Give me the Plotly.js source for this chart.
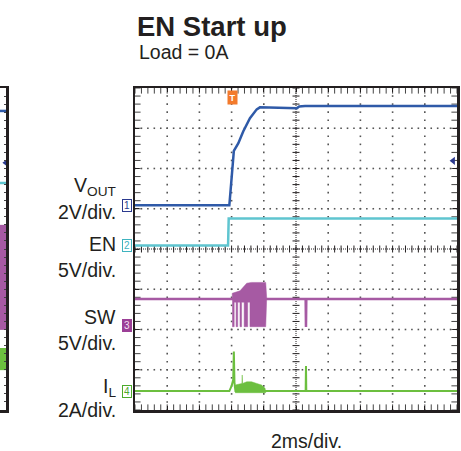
<!DOCTYPE html>
<html><head><meta charset="utf-8">
<script src="https://cdn.plot.ly/plotly-3.0.1.min.js"></script>
<style>html,body{margin:0;padding:0;background:#fff;}#chart{width:461px;height:451px;}</style>
</head><body><div id="chart"></div>
<script>
// Horizontal: time in divisions (2 ms/div, 10 div). Vertical: screen divisions (8 div).
const voutX = [0, 2.93, 2.97, 3.03, 3.07, 3.21, 3.36, 3.57, 3.78, 3.88, 5.03, 5.10, 5.28, 10];
const voutY = [5.09, 5.09, 5.47, 6.13, 6.44, 6.63, 6.92, 7.25, 7.47, 7.52, 7.50, 7.54, 7.55, 7.55];
const enX = [0, 2.89, 2.91, 10];
const enY = [4.09, 4.09, 4.76, 4.76];
const swX = [0, 3.02, 4.09, 5.30, 5.31, 5.32, 10];
const swY = [2.76, 2.76, 2.76, 2.76, 2.06, 2.76, 2.76];
const swBurstX = [3.02, 3.02, 3.26, 3.47, 3.62, 4.06, 4.09, 4.06, 3.57, 3.57, 3.50, 3.50, 3.39, 3.39, 3.31, 3.31, 3.26, 3.26, 3.19, 3.19, 3.14, 3.14, 3.08, 3.08, 3.02];
const swBurstY = [2.78, 2.90, 2.96, 3.15, 3.17, 3.17, 2.78, 2.07, 2.07, 2.68, 2.68, 2.07, 2.07, 2.68, 2.68, 2.07, 2.07, 2.68, 2.68, 2.07, 2.07, 2.68, 2.68, 2.07, 2.07];
const ilX = [0, 2.93, 3.00, 3.05, 3.07, 3.09, 3.12, 4.06, 5.30, 5.31, 5.32, 10];
const ilY = [0.47, 0.47, 0.60, 0.75, 1.45, 0.66, 0.47, 0.47, 0.47, 1.09, 0.47, 0.47];
const ilHumpX = [3.11, 3.20, 3.32, 3.33, 3.34, 3.47, 3.62, 3.78, 3.93, 4.04, 4.06, 4.06, 3.11];
const ilHumpY = [0.62, 0.64, 0.66, 0.87, 0.66, 0.70, 0.70, 0.66, 0.62, 0.54, 0.47, 0.43, 0.43];
// channel ground markers
const channelIds = ['1', '2', '3', '4'];
const channelGround = [5.09, 4.09, 2.09, 0.47];
// trigger
const triggerX = 3.04;
const triggerLevel = 6.19;
// neighbouring (cropped) scope shot on the far left
const prevX = [0, 1];
const prevVoutY = [7.43, 7.43];
const prevEnY = [5.64, 5.64];
const prevSwTop = [4.60, 4.60];
const prevSwBottom = [1.99, 1.99];
const prevIlTop = [1.54, 1.54];
const prevIlBottom = [0.99, 0.99];
const prevTrigLevel = 6.14;
// labels
const labelTexts = ['V<sub>OUT</sub>', '2V/div.', 'EN', '5V/div.', 'SW', '5V/div.', 'I<sub>L</sub>', '2A/div.'];
const titleText = 'EN Start up';
const subtitleText = 'Load = 0A';
const timebaseText = '2ms/div.';

const C = {vout:'#2f5aa8', en:'#5fc5d0', sw:'#a65aa3', il:'#6cbf3f', ink:'#231f20'};
const FONT = '"Liberation Sans", Arial, Helvetica, sans-serif';
const W = 457; // paper width in px (margin r = 4)
const XDIV = 10, YDIV = 8, SUB = 5;

// graticule (scope screen decoration, derived from the axis divisions)
const cxTicks = [], cyTicks = [];
for (let i = 0; i <= XDIV * SUB; i++) cxTicks.push(i / SUB);
for (let i = 0; i <= YDIV * SUB; i++) cyTicks.push(i / SUB);
const dotX = [], dotY = [];
for (let d = 1; d < XDIV; d++) { if (d === XDIV / 2) continue; cyTicks.forEach(v => { dotX.push(d); dotY.push(v); }); }
for (let d = 1; d < YDIV; d++) { if (d === YDIV / 2) continue; cxTicks.forEach(v => { dotX.push(v); dotY.push(d); }); }
const tickMark = (sym, size, color) => ({symbol:sym, size:size, line:{width:1, color:color}});

const traces = [
  {x:dotX, y:dotY, mode:'markers', marker:{symbol:'square', size:1.6, color:'#555', line:{width:0}}, hoverinfo:'skip'},
  {x:cxTicks, y:cxTicks.map(() => YDIV / 2), mode:'markers', marker:tickMark('line-ns', 5, C.ink), hoverinfo:'skip'},
  {x:cyTicks.map(() => XDIV / 2), y:cyTicks, mode:'markers', marker:tickMark('line-ew', 5, C.ink), hoverinfo:'skip'},
  {x:cyTicks.map(() => 0), y:cyTicks, mode:'markers', marker:tickMark('line-ew', 8, '#444'), hoverinfo:'skip'},
  {x:cyTicks.map(() => XDIV), y:cyTicks, mode:'markers', marker:tickMark('line-ew', 8, '#444'), hoverinfo:'skip'},
  {x:cxTicks, y:cxTicks.map(() => 0), mode:'markers', marker:tickMark('line-ns', 8, '#444'), hoverinfo:'skip'},
  {x:cxTicks, y:cxTicks.map(() => YDIV), mode:'markers', marker:tickMark('line-ns', 8, '#444'), hoverinfo:'skip'},
  {x:voutX, y:voutY, mode:'lines', line:{color:C.vout, width:2.5}, hoverinfo:'skip'},
  {x:enX, y:enY, mode:'lines', line:{color:C.en, width:2.5}, hoverinfo:'skip'},
  {x:swX, y:swY, mode:'lines', line:{color:C.sw, width:2.5}, hoverinfo:'skip'},
  {x:swBurstX, y:swBurstY, mode:'lines', fill:'toself', fillcolor:C.sw, line:{color:C.sw, width:0.5}, hoverinfo:'skip'},
  {x:ilX, y:ilY, mode:'lines', line:{color:C.il, width:2}, hoverinfo:'skip'},
  {x:ilHumpX, y:ilHumpY, mode:'lines', fill:'toself', fillcolor:C.il, line:{color:C.il, width:0.5}, hoverinfo:'skip'},
  {x:[9.88], y:[triggerLevel], mode:'markers', marker:{symbol:'triangle-left', size:7, color:'#2b3a8f'}, cliponaxis:false, hoverinfo:'skip'},
  // previous shot
  {x:prevX, y:prevVoutY, xaxis:'x2', yaxis:'y2', mode:'lines', line:{color:C.vout, width:2.5}, hoverinfo:'skip'},
  {x:prevX, y:prevEnY, xaxis:'x2', yaxis:'y2', mode:'lines', line:{color:C.en, width:2.5}, hoverinfo:'skip'},
  {x:prevX.concat(prevX.slice().reverse()), y:prevSwTop.concat(prevSwBottom), xaxis:'x2', yaxis:'y2', mode:'lines', fill:'toself', fillcolor:C.sw, line:{width:0, color:C.sw}, hoverinfo:'skip'},
  {x:prevX.concat(prevX.slice().reverse()), y:prevIlTop.concat(prevIlBottom), xaxis:'x2', yaxis:'y2', mode:'lines', fill:'toself', fillcolor:C.il, line:{width:0, color:C.il}, hoverinfo:'skip'},
  {x:[0.9], y:[prevTrigLevel], xaxis:'x2', yaxis:'y2', mode:'markers', marker:{symbol:'triangle-left', size:6, color:'#2b3a8f'}, cliponaxis:false, hoverinfo:'skip'}
];

const ann = [];
const markerStyle = [
  {fc:'#2b3a8f', bg:'#fff', bc:'#2b3a8f'},
  {fc:'#3fb3bf', bg:'#fff', bc:'#3fb3bf'},
  {fc:'#f4e0f2', bg:'#9c3f97', bc:'#9c3f97'},
  {fc:'#4daa2c', bg:'#fff', bc:'#4daa2c'}
];
channelIds.forEach((id, i) => {
  ann.push({xref:'paper', yref:'y', x:127/W, y:channelGround[i], text:id, showarrow:false,
    font:{family:FONT, size:10, color:markerStyle[i].fc}, bgcolor:markerStyle[i].bg,
    bordercolor:markerStyle[i].bc, borderwidth:1, borderpad:0, width:8, height:11, xanchor:'center', yanchor:'middle'});
});
// label vertical centres, in pixels from the top of the picture
const labelPix = [186, 212, 243.5, 270, 317, 343, 387, 410];
labelTexts.forEach((t, i) => {
  ann.push({xref:'paper', yref:'paper', x:118/W, y:(410 - labelPix[i]) / 322, text:t, showarrow:false, xanchor:'right', yanchor:'middle',
    font:{family:FONT, size:19.5, color:C.ink}});
});
ann.push({xref:'x', yref:'y', x:triggerX, y:7.76, text:'<b>T</b>', showarrow:false, bgcolor:'#f37a2c',
  font:{family:FONT, size:9, color:'#fff'}, borderpad:1.5, xanchor:'center', yanchor:'middle'});
ann.push({xref:'paper', yref:'paper', x:137/W, y:(410-51.5)/322, text:subtitleText, showarrow:false, xanchor:'left', yanchor:'middle',
  font:{family:FONT, size:19.5, color:C.ink}});
ann.push({xref:'paper', yref:'paper', x:306/W, y:(410-441)/322, text:timebaseText, showarrow:false, xanchor:'center', yanchor:'middle',
  font:{family:FONT, size:19.5, color:C.ink}});

const layout = {
  width:461, height:451,
  margin:{l:0, r:4, t:88, b:41},
  paper_bgcolor:'#fff', plot_bgcolor:'#fff', showlegend:false,
  font:{family:FONT, color:C.ink},
  title:{text:'<b>'+titleText+'</b>', xref:'container', yref:'container', x:137/461, xanchor:'left', y:1-26/451, yanchor:'middle',
    font:{family:FONT, size:27.5, color:C.ink}},
  xaxis:{domain:[135/W, 1], range:[0, XDIV], tickmode:'linear', tick0:0, dtick:1, showticklabels:false,
    ticks:'inside', ticklen:4, tickcolor:C.ink, tickwidth:1, showgrid:false, zeroline:false,
    showline:true, linecolor:C.ink, linewidth:2.5, mirror:'allticks', fixedrange:true},
  yaxis:{domain:[0,1], range:[0, YDIV], tickmode:'linear', tick0:0, dtick:1, showticklabels:false,
    ticks:'inside', ticklen:4, tickcolor:C.ink, tickwidth:1, showgrid:false, zeroline:false,
    showline:true, linecolor:C.ink, linewidth:2.5, mirror:'allticks', fixedrange:true},
  xaxis2:{domain:[0, 6/W], range:[0,1], anchor:'y2', showticklabels:false, showgrid:false, zeroline:false, ticks:'',
    showline:true, mirror:true, linecolor:C.ink, linewidth:2.5, fixedrange:true},
  yaxis2:{domain:[0,1], range:[0, YDIV], anchor:'x2', side:'right', showticklabels:false, showgrid:false, zeroline:false,
    showline:true, linecolor:C.ink, linewidth:2.5, ticks:'inside', tickmode:'linear', tick0:0, dtick:0.2, ticklen:2, tickcolor:'#444', fixedrange:true},
  shapes:[
    {type:'line', xref:'x', yref:'y', x0:XDIV/2, x1:XDIV/2, y0:0, y1:YDIV, layer:'below', line:{color:C.ink, width:1, dash:'1px,1px'}},
    {type:'line', xref:'x', yref:'y', x0:0, x1:XDIV, y0:YDIV/2, y1:YDIV/2, layer:'below', line:{color:C.ink, width:1, dash:'1px,1px'}}
  ],
  annotations:ann
};

Plotly.newPlot('chart', traces, layout, {displayModeBar:false, staticPlot:true});
</script>
</body></html>
